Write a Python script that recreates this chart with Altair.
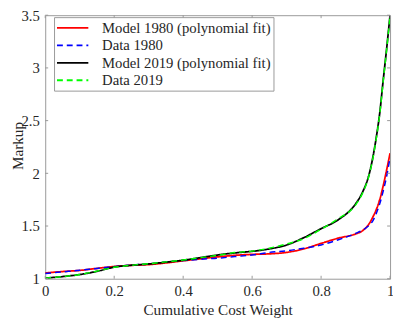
import altair as alt
import pandas as pd

# ---- data ----
x_grid = [0, 0.05, 0.1, 0.15, 0.2, 0.25, 0.3, 0.35, 0.4, 0.45, 0.5, 0.55, 0.6, 0.65,
          0.7, 0.75, 0.8, 0.85, 0.9, 0.92, 0.94, 0.95, 0.96, 0.97, 0.98, 0.99, 1.0]
model_1980 = [1.055, 1.068, 1.079, 1.098, 1.116, 1.127, 1.134, 1.15, 1.17, 1.189, 1.207, 1.222, 1.231, 1.236,
              1.25, 1.283, 1.335, 1.385, 1.425, 1.455, 1.525, 1.585, 1.655, 1.75, 1.88, 2.03, 2.19]
data_1980 = [1.05, 1.065, 1.08, 1.098, 1.115, 1.13, 1.14, 1.16, 1.172, 1.185, 1.195, 1.21, 1.225, 1.25,
             1.265, 1.29, 1.32, 1.37, 1.43, 1.46, 1.51, 1.55, 1.62, 1.71, 1.83, 1.97, 2.15]
model_2019 = [1.006, 1.02, 1.04, 1.07, 1.11, 1.128, 1.14, 1.157, 1.176, 1.2, 1.225, 1.245, 1.26, 1.283,
              1.32, 1.39, 1.475, 1.56, 1.71, 1.82, 2.0, 2.15, 2.34, 2.57, 2.88, 3.18, 3.5]
data_2019 = [1.005, 1.02, 1.04, 1.072, 1.108, 1.128, 1.142, 1.16, 1.178, 1.2, 1.222, 1.248, 1.262, 1.29,
             1.33, 1.38, 1.47, 1.57, 1.70, 1.81, 1.99, 2.14, 2.33, 2.56, 2.87, 3.17, 3.49]

series_names = ["Model 1980 (polynomial fit)", "Data 1980",
                "Model 2019 (polynomial fit)", "Data 2019"]
series_values = [model_1980, data_1980, model_2019, data_2019]
series_colors = ["#ff0000", "#0000ff", "#000000", "#00ff00"]
series_dashes = [[1, 0], [6, 4], [1, 0], [6, 4]]
series_widths = [1.8, 1.5, 1.8, 1.5]

x_ticks = [0, 0.2, 0.4, 0.6, 0.8, 1]
y_ticks = [1, 1.5, 2, 2.5, 3, 3.5]

rows = []
for name, vals in zip(series_names, series_values):
    for xv, yv in zip(x_grid, vals):
        rows.append({"series": name, "x": xv, "y": yv})
df = pd.DataFrame(rows)

W, H = 352, 269
FONT = "Liberation Serif, Times New Roman, serif"
FRAME = "#999999"
TEXT = "#262626"

xs = alt.Scale(domain=[0, 1], nice=False)
ys = alt.Scale(domain=[1, 3.5], nice=False, zero=False)

x_axis = alt.Axis(values=x_ticks, format="~g", ticks=False, tickSize=0, domain=False, grid=False,
                  labelPadding=5, labelFont=FONT, labelFontSize=15, labelColor=TEXT, labelFlush=False,
                  title="Cumulative Cost Weight", titleFont=FONT, titleFontSize=15.5,
                  titleFontWeight="normal", titleColor=TEXT, titleY=37, titleBaseline="alphabetic")
y_axis = alt.Axis(values=y_ticks, format="~g", ticks=False, tickSize=0, domain=False, grid=False,
                  labelPadding=6, labelFont=FONT, labelFontSize=15, labelColor=TEXT,
                  title="Markup", titleFont=FONT, titleFontSize=15.5, titleFontWeight="normal",
                  titleColor=TEXT, titleX=-23, titleY=133, titleBaseline="alphabetic")

legend = alt.Legend(title=None, orient="none", legendX=9, legendY=2)
color = alt.Color("series:N", scale=alt.Scale(domain=series_names, range=series_colors), legend=legend)
dash = alt.StrokeDash("series:N", scale=alt.Scale(domain=series_names, range=series_dashes), legend=legend)

base = alt.Chart(df)
layers = []
for name, sw in zip(series_names, series_widths):
    layers.append(
        base.transform_filter(alt.datum.series == name)
        .mark_line(strokeWidth=sw, interpolate="monotone", clip=True)
        .encode(
            x=alt.X("x:Q", scale=xs, axis=x_axis),
            y=alt.Y("y:Q", scale=ys, axis=y_axis),
            color=color,
            strokeDash=dash,
        )
    )

xt = alt.Chart(pd.DataFrame({"x": x_ticks}))
yt = alt.Chart(pd.DataFrame({"y": y_ticks}))
tick_style = dict(color=FRAME, strokeWidth=1)
ticks = [
    xt.mark_rule(**tick_style).encode(x=alt.X("x:Q", scale=xs, axis=x_axis), y=alt.value(H), y2=alt.value(H - 3)),
    xt.mark_rule(**tick_style).encode(x=alt.X("x:Q", scale=xs, axis=x_axis), y=alt.value(0), y2=alt.value(3)),
    yt.mark_rule(**tick_style).encode(y=alt.Y("y:Q", scale=ys, axis=y_axis), x=alt.value(0), x2=alt.value(3)),
    yt.mark_rule(**tick_style).encode(y=alt.Y("y:Q", scale=ys, axis=y_axis), x=alt.value(W), x2=alt.value(W - 3)),
]

chart = (
    alt.layer(*layers, *ticks)
    .properties(width=W, height=H, autosize=alt.AutoSizeParams(type="none"),
                padding={"left": 38, "top": 4, "right": 3, "bottom": 50})
    .configure_view(stroke=FRAME, strokeWidth=1)
    .configure_legend(symbolType="M-2,0H2", symbolSize=256, symbolStrokeWidth=1.8,
                      symbolFillColor="transparent", symbolOffset=8,
                      labelFont=FONT, labelFontSize=15, labelColor=TEXT, labelLimit=400,
                      padding=2, rowPadding=0.8, labelOffset=21, strokeColor=FRAME,
                      fillColor="white", cornerRadius=0)
)

chart.save("out.html", embed_options={"renderer": "svg", "actions": False})
